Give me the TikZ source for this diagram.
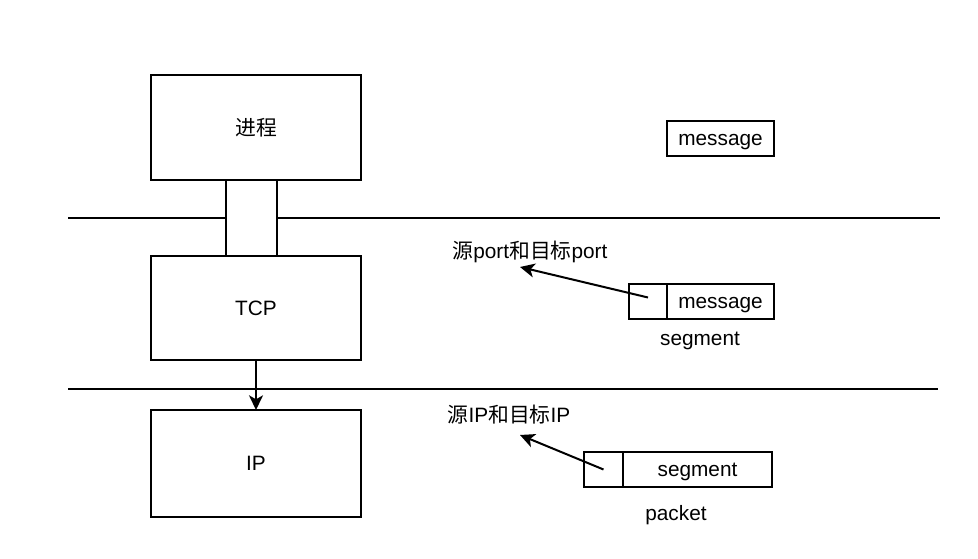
\documentclass[tikz,border=0pt]{standalone}
\usepackage{fontspec}
\setmainfont{Liberation Sans}
\newfontfamily\cjk{Noto Sans CJK SC}
\usetikzlibrary{arrows.meta}

\begin{document}
\begin{tikzpicture}[x=0.75pt, y=-0.75pt, >={Stealth[length=11pt,width=10.5pt,inset=3pt]},
	font=\fontsize{15.6}{18}\selectfont]

	\tikzstyle{layer}=[rectangle, draw=black, line width=1.5pt, inner sep=0pt, outer sep=0pt, minimum width=157.5pt, fill=white]
	\tikzstyle{cell}=[rectangle, draw=black, line width=1.5pt, inner sep=0pt, outer sep=0pt, minimum height=26.25pt, fill=white, text height=11pt, text depth=0pt]
	\tikzstyle{tag}=[inner sep=1pt]
	\tikzstyle{wire}=[line width=1.5pt]

	\useasboundingbox (0,0) rectangle (978,559);

	% layer boundaries
	\coordinate (top west) at (68,218);
	\coordinate (top east) at (940,218);
	\coordinate (low west) at (68,389);
	\coordinate (low east) at (938,389);
	\draw[wire] (top west) -- (top east);
	\draw[wire] (low west) -- (low east);

	% stack
	\node at (256,127.5) (process) [layer, minimum height=78.75pt] {{\cjk 进程}};
	\node at (256,308) (tcp) [layer, minimum height=78pt] {TCP};
	\node at (256,463.5) (ip) [layer, minimum height=80.25pt] {IP};
	\node at (251.5,218) (pipe) [cell, minimum width=38.25pt, minimum height=57pt] {};

	% data units
	\node at (720.5,138.5) (message) [cell, minimum width=80.25pt] {message};

	\node at (648,301.5) (tcphead) [cell, minimum width=28.5pt] {};
	\node at (720.5,301.5) (tcpdata) [cell, minimum width=80.25pt] {message};
	\node at (700,341) (seglabel) [tag] {segment};
	\node at (530,252) (portlabel) [tag] {{\cjk 源}port{\cjk 和目标}port};

	\node at (603.5,469.5) (iphead) [cell, minimum width=29.25pt] {};
	\node at (697.5,469.5) (ipdata) [cell, minimum width=111.75pt] {segment};
	\node at (676,515) (pktlabel) [tag] {packet};
	\node at (509,415) (iplabel) [tag] {{\cjk 源}IP{\cjk 和目标}IP};

	\coordinate (porttip) at (520,267);
	\coordinate (iptip) at (520,435);

	\draw[->, wire] (tcp) -- (ip);
	\draw[->, wire] ([yshift=3pt]tcphead.center) -- (porttip);
	\draw[->, wire] (iphead.center) -- (iptip);
\end{tikzpicture}
\end{document}
